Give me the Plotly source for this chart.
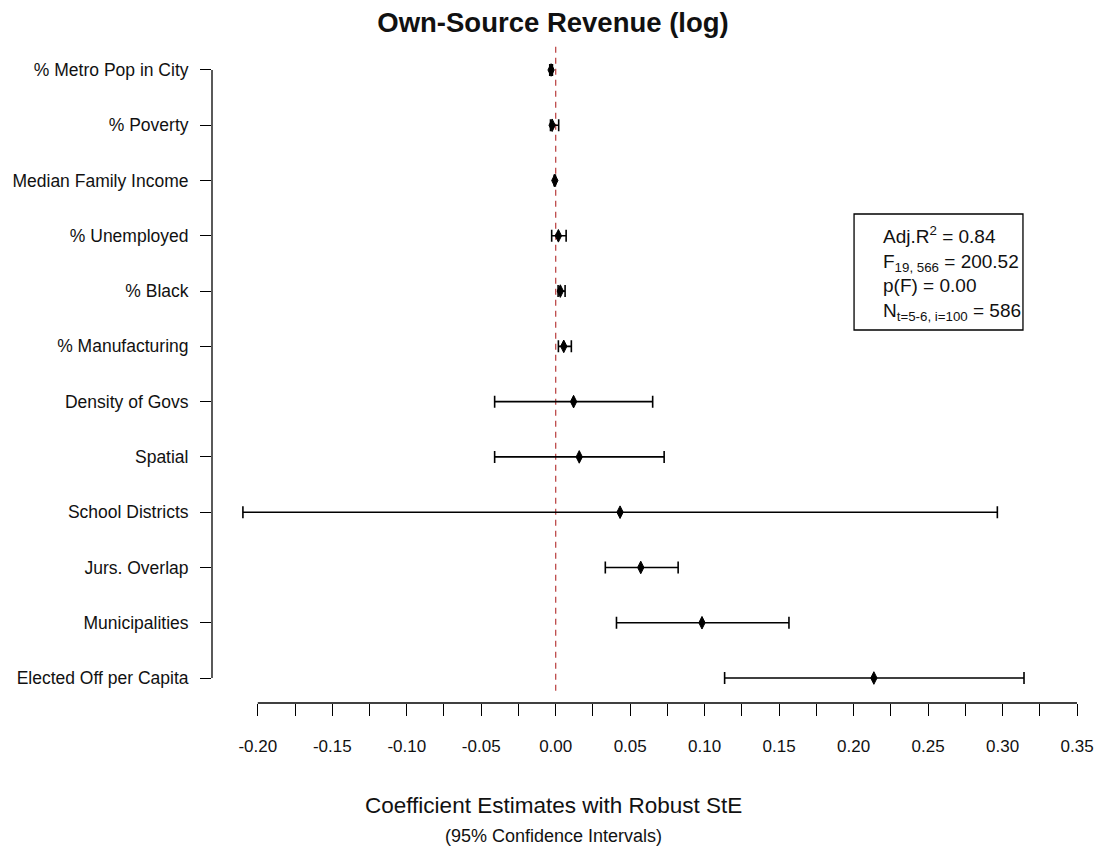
import plotly.graph_objects as go

# ---------------- data ----------------
labels = ["% Metro Pop in City", "% Poverty", "Median Family Income", "% Unemployed",
          "% Black", "% Manufacturing", "Density of Govs", "Spatial",
          "School Districts", "Jurs. Overlap", "Municipalities", "Elected Off per Capita"]
estimate = [-0.0031, -0.0024, -0.0006, 0.0018, 0.0031, 0.0054,
            0.0120, 0.0158, 0.0432, 0.0571, 0.0982, 0.2136]
ci_low = [-0.0040, -0.0035, -0.0010, -0.0027, 0.0016, 0.0018,
          -0.0410, -0.0410, -0.2100, 0.0333, 0.0408, 0.1134]
ci_high = [-0.0022, 0.0020, -0.0002, 0.0070, 0.0063, 0.0105,
           0.0651, 0.0728, 0.2965, 0.0822, 0.1566, 0.3144]

x_tick_vals = [-0.20, -0.15, -0.10, -0.05, 0.00, 0.05, 0.10, 0.15, 0.20, 0.25, 0.30, 0.35]
x_tick_text = ["-0.20", "-0.15", "-0.10", "-0.05", "0.00", "0.05", "0.10", "0.15",
               "0.20", "0.25", "0.30", "0.35"]
x_minor_vals = [-0.175, -0.125, -0.075, -0.025, 0.025, 0.075, 0.125, 0.175,
                0.225, 0.275, 0.325]

title_text = "Own-Source Revenue (log)"
xlab_main = "Coefficient Estimates with Robust StE"
xlab_sub = "(95% Confidence Intervals)"
stats_text = ("Adj.R<sup>2</sup> = 0.84<br>"
              "F<sub>19, 566</sub> = 200.52<br>"
              "p(F) = 0.00<br>"
              "N<sub>t=5-6, i=100</sub> = 586")

FONT = "Liberation Sans, Arial, Helvetica, sans-serif"
INK = "#111111"

err_plus = [h - e for h, e in zip(ci_high, estimate)]
err_minus = [e - l for e, l in zip(estimate, ci_low)]

fig = go.Figure()
fig.add_trace(go.Scatter(
    x=estimate, y=labels, mode="markers",
    marker=dict(symbol="diamond-tall", size=9, color="black",
                line=dict(color="black", width=1)),
    error_x=dict(type="data", symmetric=False, array=err_plus, arrayminus=err_minus,
                 color="black", thickness=1.6, width=6),
    showlegend=False, cliponaxis=False,
))

n = len(labels)
x_lo, x_hi = -0.23075, 0.35669

shapes = [
    # zero reference line
    dict(type="line", xref="x", yref="y", x0=0, x1=0, y0=-0.42, y1=n - 1 + 0.28,
         line=dict(color="#b83c3c", width=1.2, dash="6px,5px"), layer="below"),
    # y-axis line (between first and last category)
    dict(type="line", xref="paper", yref="y", x0=0, x1=0, y0=0, y1=n - 1,
         line=dict(color="black", width=1.3)),
    # x-axis line (between first and last tick)
    dict(type="line", xref="x", yref="paper", x0=x_tick_vals[0], x1=x_tick_vals[-1], y0=0, y1=0,
         line=dict(color="black", width=1.3)),
    # stats box
    dict(type="rect", xref="x", yref="y", x0=0.2003, x1=0.3137, y0=2.605, y1=4.704,
         line=dict(color="black", width=1.3), fillcolor="rgba(0,0,0,0)"),
]

annotations = [
    dict(text=stats_text, xref="x", yref="y", x=0.2183, y=3.68, xanchor="left", yanchor="middle",
         align="left", showarrow=False, font=dict(family=FONT, size=19, color=INK)),
    dict(text=xlab_main, xref="paper", yref="paper", x=(554.5 - 211) / 879, y=0, yshift=-102,
         xanchor="center", yanchor="middle", showarrow=False,
         font=dict(family=FONT, size=22.5, color=INK)),
    dict(text=xlab_sub, xref="paper", yref="paper", x=(554.5 - 211) / 879, y=0, yshift=-133,
         xanchor="center", yanchor="middle", showarrow=False,
         font=dict(family=FONT, size=18, color=INK)),
]

fig.update_layout(
    width=1106, height=858,
    margin=dict(l=211, r=16, t=45, b=155),
    paper_bgcolor="white", plot_bgcolor="white",
    font=dict(family=FONT, size=17, color=INK),
    title=dict(text="<b>" + title_text + "</b>", x=0.5, xref="container", xanchor="center",
               y=1 - 22 / 858, yref="container", yanchor="middle",
               font=dict(family=FONT, size=27.5, color=INK)),
    xaxis=dict(range=[x_lo, x_hi], tickvals=x_tick_vals, ticktext=x_tick_text,
               showgrid=False, zeroline=False, showline=False,
               ticks="outside", ticklen=12, tickwidth=1.3, tickcolor="black",
               minor=dict(tickvals=x_minor_vals, ticks="outside", ticklen=12,
                          tickwidth=1.3, tickcolor="black", showgrid=False),
               ticklabelstandoff=16, tickfont=dict(family=FONT, size=17, color=INK)),
    yaxis=dict(type="category", categoryorder="array", categoryarray=labels,
               range=[n - 1 + 0.452, -0.452],
               showgrid=False, zeroline=False, showline=False,
               ticks="outside", ticklen=11, tickwidth=1.3, tickcolor="black",
               ticklabelstandoff=8, tickfont=dict(family=FONT, size=17.5, color=INK)),
    shapes=shapes, annotations=annotations,
)

fig.write_html("out.html")
